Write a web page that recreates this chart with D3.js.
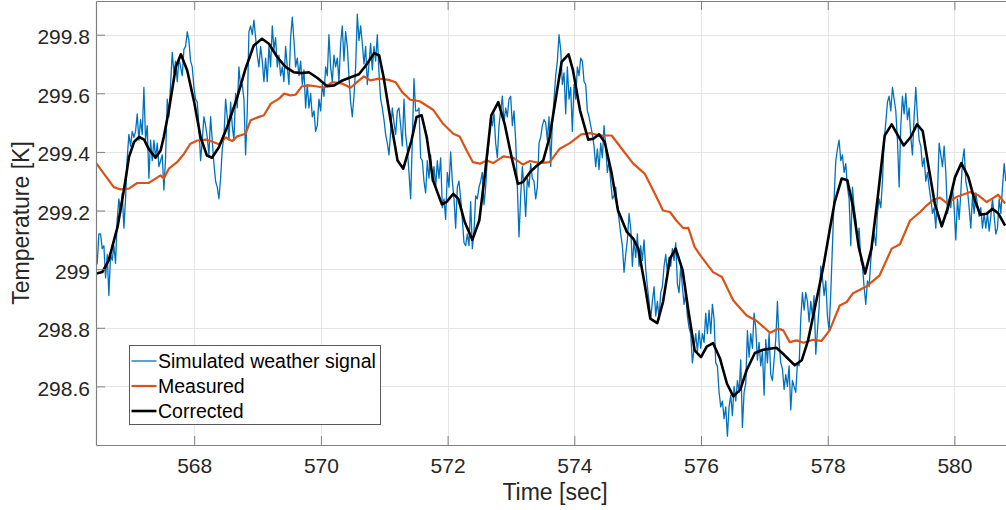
<!DOCTYPE html>
<html>
<head>
<meta charset="utf-8">
<script src="https://cdn.jsdelivr.net/npm/d3@7"></script>
<style>
  body { margin: 0; background: #fff; }
  svg { display: block; font-family: "Liberation Sans", Arial, Helvetica, sans-serif; }
</style>
</head>
<body>
<div id="chart"></div>
<script>
// simulated weather signal, sampled at 38 Hz from t0
const simStart = 566.443, simRate = 38;
const simValues = [
  299.01, 299.02, 299.12, 299.12, 299.07, 299.08, 298.97, 299.05, 298.91, 299.05,
  299.03, 299.08, 299.02, 299.17, 299.24, 299.19, 299.26, 299.14, 299.24, 299.38,
  299.46, 299.42, 299.47, 299.45, 299.47, 299.53, 299.44, 299.51, 299.46, 299.62,
  299.44, 299.49, 299.31, 299.44, 299.37, 299.44, 299.38, 299.43, 299.35, 299.37,
  299.39, 299.27, 299.38, 299.58, 299.52, 299.63, 299.74, 299.67, 299.71, 299.64,
  299.72, 299.69, 299.66, 299.75, 299.76, 299.81, 299.78, 299.71, 299.69, 299.62,
  299.58, 299.57, 299.49, 299.37, 299.44, 299.52, 299.49, 299.45, 299.39, 299.52,
  299.44, 299.36, 299.30, 299.28, 299.24, 299.31, 299.41, 299.45, 299.58, 299.52,
  299.44, 299.57, 299.49, 299.44, 299.60, 299.55, 299.69, 299.62, 299.63, 299.58,
  299.39, 299.54, 299.81, 299.83, 299.80, 299.85, 299.79, 299.73, 299.69, 299.76,
  299.71, 299.64, 299.72, 299.64, 299.76, 299.69, 299.83, 299.75, 299.79, 299.69,
  299.73, 299.66, 299.69, 299.64, 299.76, 299.69, 299.63, 299.79, 299.86, 299.78,
  299.69, 299.72, 299.66, 299.71, 299.63, 299.68, 299.55, 299.63, 299.55, 299.60,
  299.52, 299.54, 299.47, 299.49, 299.58, 299.54, 299.63, 299.59, 299.69, 299.66,
  299.80, 299.69, 299.64, 299.73, 299.69, 299.72, 299.64, 299.77, 299.83, 299.71,
  299.81, 299.76, 299.66, 299.57, 299.52, 299.59, 299.69, 299.87, 299.78, 299.83,
  299.77, 299.70, 299.76, 299.63, 299.70, 299.77, 299.68, 299.76, 299.71, 299.80,
  299.67, 299.58, 299.55, 299.51, 299.46, 299.43, 299.39, 299.47, 299.55, 299.50,
  299.46, 299.54, 299.55, 299.49, 299.42, 299.58,
  299.46, 299.41, 299.33, 299.24, 299.44, 299.65, 299.54, 299.54, 299.55, 299.38,
  299.37, 299.30, 299.26, 299.37, 299.31, 299.39, 299.30, 299.35, 299.28, 299.37,
  299.31, 299.38, 299.21, 299.24, 299.17, 299.33, 299.28, 299.40, 299.30, 299.24,
  299.14, 299.28, 299.30, 299.24, 299.17, 299.09, 299.08, 299.12, 299.08, 299.23,
  299.07, 299.13, 299.25, 299.24, 299.28, 299.30, 299.33, 299.22, 299.28, 299.38,
  299.44, 299.52, 299.49, 299.53, 299.43, 299.38, 299.49, 299.54, 299.59, 299.50,
  299.55, 299.52, 299.58, 299.59, 299.49, 299.54, 299.44, 299.28, 299.11, 299.25,
  299.35, 299.28, 299.18, 299.31, 299.28, 299.36, 299.31, 299.30, 299.24, 299.28,
  299.43, 299.45, 299.49, 299.51, 299.50, 299.44, 299.52, 299.35, 299.50, 299.58,
  299.66, 299.71, 299.80, 299.75, 299.63, 299.67, 299.53, 299.69, 299.58, 299.62,
  299.47, 299.63, 299.58, 299.69, 299.66, 299.72, 299.71, 299.64, 299.63, 299.54,
  299.52, 299.49, 299.46, 299.42, 299.35, 299.41, 299.34, 299.43, 299.38, 299.49,
  299.42, 299.33, 299.37, 299.30, 299.24, 299.25, 299.28, 299.21, 299.17, 299.12,
  299.08, 298.99, 299.05, 299.10, 299.19, 299.14, 299.01, 299.10, 299.04, 299.12,
  299.01, 299.08, 299.03, 299.10, 299.00, 298.94, 298.89, 298.83, 298.89, 298.94,
  298.84, 298.89, 298.83, 298.92, 298.94, 299.01, 299.05, 298.99, 299.04, 299.01,
  299.07, 299.03, 299.09, 298.95, 298.92, 299.01, 298.94, 298.88, 298.92, 298.84,
  298.80, 298.78, 298.68, 298.73, 298.78, 298.72, 298.79, 298.73, 298.78, 298.75,
  298.85, 298.78, 298.86,
  298.78, 298.88, 298.83, 298.68, 298.67, 298.58, 298.53, 298.55, 298.49, 298.53,
  298.43, 298.53, 298.57, 298.50, 298.60, 298.55, 298.62, 298.58, 298.69, 298.46,
  298.58, 298.61, 298.79, 298.70, 298.78, 298.73, 298.85, 298.80, 298.69, 298.75,
  298.67, 298.72, 298.57, 298.76, 298.68, 298.78, 298.64, 298.62, 298.69, 298.76,
  298.89, 298.75, 298.68, 298.66, 298.59, 298.64, 298.60, 298.67, 298.52, 298.62,
  298.60, 298.58, 298.68, 298.67, 298.83, 298.92, 298.86, 298.92, 298.89, 298.82,
  298.89, 298.84, 298.91, 298.71, 298.79, 298.87, 299.01, 298.97, 298.91, 298.96,
  298.84, 298.79, 298.92, 299.08, 299.24, 299.37, 299.41, 299.44, 299.37, 299.39,
  299.33, 299.36, 299.28, 299.24, 299.08, 299.28, 299.21, 299.17, 299.10, 299.14,
  299.03, 299.01, 298.94, 298.88, 298.96, 298.94, 299.03, 299.09, 299.12, 299.08,
  299.19, 299.24, 299.21, 299.30, 299.44, 299.50, 299.57, 299.59, 299.54, 299.62,
  299.58, 299.54, 299.44, 299.28, 299.49, 299.59, 299.53, 299.60, 299.51, 299.55,
  299.45, 299.39, 299.52, 299.62, 299.52, 299.44, 299.42, 299.35, 299.38, 299.30,
  299.33, 299.28, 299.24, 299.19, 299.21, 299.14, 299.26, 299.43, 299.39, 299.35,
  299.42, 299.33, 299.19, 299.24, 299.21, 299.28, 299.21, 299.10, 299.24, 299.17,
  299.26, 299.37, 299.41, 299.30, 299.27, 299.21, 299.14, 299.25, 299.19, 299.26,
  299.22, 299.18, 299.21, 299.14, 299.19, 299.14, 299.19, 299.13, 299.18, 299.24,
  299.18, 299.12, 299.14, 299.24, 299.19, 299.28, 299.36, 299.30
];

const measTime = [
  566.45, 566.73, 566.84, 566.97, 567.10, 567.28, 567.39, 567.47, 567.52, 567.60,
  567.73, 567.84, 567.94, 568.05, 568.18, 568.26, 568.39, 568.50, 568.60, 568.68,
  568.81, 568.89, 568.99, 569.10, 569.21, 569.34, 569.42, 569.52, 569.60, 569.70,
  569.81, 569.92, 570.05, 570.18, 570.34, 570.47, 570.57, 570.68, 570.78, 570.92,
  571.07, 571.18, 571.28, 571.41, 571.56, 571.77, 571.93, 572.09, 572.19, 572.30,
  572.40, 572.51, 572.62, 572.72, 572.88, 573.04, 573.19, 573.30, 573.46, 573.61,
  573.77, 573.93, 574.11, 574.25, 574.40, 574.59, 574.77, 574.93, 575.11, 575.27,
  575.40, 575.51, 575.61, 575.72, 575.80, 575.90, 576.01, 576.19, 576.33, 576.51,
  576.72, 576.88, 577.09, 577.22, 577.30, 577.40, 577.51, 577.62, 577.77, 577.90,
  578.03, 578.19, 578.30, 578.40, 578.61, 578.82, 579.01, 579.14, 579.30, 579.46,
  579.56, 579.67, 579.77, 579.88, 580.03, 580.25, 580.38, 580.51, 580.59, 580.69,
  580.80
];
const measValues = [
  299.363, 299.280, 299.272, 299.275, 299.294, 299.294, 299.309, 299.320, 299.309, 299.343,
  299.365, 299.394, 299.428, 299.439, 299.442, 299.437, 299.426, 299.449, 299.437, 299.453,
  299.462, 299.508, 299.517, 299.525, 299.565, 299.582, 299.599, 299.593, 299.595, 299.624,
  299.627, 299.624, 299.619, 299.638, 299.633, 299.619, 299.638, 299.658, 299.644, 299.650,
  299.646, 299.638, 299.605, 299.578, 299.573, 299.544, 299.496, 299.462, 299.453, 299.405,
  299.365, 299.360, 299.371, 299.362, 299.385, 299.380, 299.357, 299.369, 299.362, 299.365,
  299.411, 299.430, 299.460, 299.464, 299.456, 299.456, 299.405, 299.360, 299.326, 299.258,
  299.200, 299.195, 299.166, 299.140, 299.141, 299.075, 299.041, 298.990, 298.973, 298.893,
  298.842, 298.823, 298.783, 298.797, 298.791, 298.751, 298.757, 298.749, 298.759, 298.755,
  298.791, 298.876, 298.888, 298.918, 298.941, 298.979, 299.070, 299.085, 299.166, 299.195,
  299.217, 299.237, 299.244, 299.225, 299.246, 299.263, 299.252, 299.229, 299.240, 299.254,
  299.224
];

const corrTime = [
  566.46, 566.55, 566.65, 566.79, 566.89, 566.97, 567.05, 567.13, 567.21, 567.28,
  567.39, 567.47, 567.52, 567.60, 567.71, 567.79, 567.89, 568.00, 568.10, 568.20,
  568.28, 568.39, 568.52, 568.68, 568.81, 568.94, 569.07, 569.18, 569.31, 569.44,
  569.57, 569.70, 569.81, 569.94, 570.10, 570.21, 570.34, 570.47, 570.60, 570.71,
  570.84, 570.92, 570.99, 571.10, 571.21, 571.30, 571.43, 571.51, 571.59, 571.67,
  571.77, 571.91, 571.98, 572.09, 572.17, 572.27, 572.39, 572.50, 572.59, 572.69,
  572.80, 572.90, 573.01, 573.11, 573.19, 573.30, 573.40, 573.51, 573.61, 573.72,
  573.80, 573.91, 573.98, 574.09, 574.22, 574.30, 574.39, 574.48, 574.59, 574.69,
  574.83, 574.93, 575.01, 575.11, 575.20, 575.31, 575.40, 575.51, 575.60, 575.71,
  575.80, 575.90, 576.00, 576.09, 576.19, 576.30, 576.41, 576.51, 576.62, 576.72,
  576.85, 576.98, 577.19, 577.32, 577.48, 577.59, 577.69, 577.80, 577.93, 578.03,
  578.11, 578.22, 578.31, 578.40, 578.49, 578.59, 578.69, 578.79, 578.90, 579.01,
  579.11, 579.20, 579.31, 579.41, 579.50, 579.58, 579.69, 579.80, 579.90, 580.01,
  580.11, 580.22, 580.32, 580.41, 580.51, 580.60, 580.69, 580.80
];
const corrValues = [
  298.985, 298.990, 299.030, 299.144, 299.269, 299.382, 299.434, 299.451, 299.442, 299.411,
  299.380, 299.405, 299.451, 299.542, 299.690, 299.733, 299.678, 299.570, 299.451, 299.388,
  299.380, 299.416, 299.485, 299.587, 299.684, 299.763, 299.786, 299.769, 299.724, 299.690,
  299.672, 299.669, 299.672, 299.653, 299.624, 299.627, 299.644, 299.655, 299.665, 299.695,
  299.737, 299.729, 299.655, 299.508, 299.371, 299.343, 299.439, 299.519, 299.525, 299.451,
  299.303, 299.221, 299.229, 299.257, 299.240, 299.161, 299.100, 299.166, 299.326, 299.525,
  299.570, 299.496, 299.382, 299.291, 299.297, 299.331, 299.351, 299.371, 299.451, 299.599,
  299.707, 299.733, 299.678, 299.542, 299.442, 299.445, 299.460, 299.434, 299.326, 299.200,
  299.127, 299.104, 299.070, 298.950, 298.831, 298.816, 298.888, 299.036, 299.070, 298.996,
  298.859, 298.723, 298.700, 298.736, 298.748, 298.695, 298.609, 298.566, 298.589, 298.655,
  298.714, 298.725, 298.732, 298.706, 298.672, 298.689, 298.757, 298.871, 299.007, 299.132,
  299.229, 299.309, 299.303, 299.212, 299.075, 298.985, 299.070, 299.246, 299.456, 299.494,
  299.456, 299.422, 299.451, 299.494, 299.471, 299.365, 299.224, 299.146, 299.212, 299.314,
  299.362, 299.314, 299.235, 299.186, 299.189, 299.206, 299.191, 299.149
];

const xTicks = [568, 570, 572, 574, 576, 578, 580];
const yTicks = [298.6, 298.8, 299, 299.2, 299.4, 299.6, 299.8];
const seriesNames = ["Simulated weather signal", "Measured", "Corrected"];
const seriesColors = ["#0072BD", "#D95319", "#000000"];

let width = 1006, height = 510;
let plot = { left: 96, right: 1007, top: 1, bottom: 445 };

const svg = d3.select("#chart").append("svg")
  .attr("width", width)
  .attr("height", height);

svg.append("rect").attr("width", width).attr("height", height).attr("fill", "#fff");

const x = d3.scaleLinear().domain([566.45, 580.83]).range([plot.left, plot.right]);
const y = d3.scaleLinear().domain([298.4, 299.915]).range([plot.bottom, plot.top]);

// grid
const grid = svg.append("g").attr("stroke", "#e6e6e6").attr("stroke-width", 1);
grid.selectAll(".vg").data(xTicks).enter().append("line")
  .attr("x1", d => Math.round(x(d)) + 0.5).attr("x2", d => Math.round(x(d)) + 0.5)
  .attr("y1", plot.top).attr("y2", plot.bottom);
grid.selectAll(".hg").data(yTicks).enter().append("line")
  .attr("y1", d => Math.round(y(d)) + 0.5).attr("y2", d => Math.round(y(d)) + 0.5)
  .attr("x1", plot.left).attr("x2", plot.right);

svg.append("clipPath").attr("id", "clip")
  .append("rect")
  .attr("x", plot.left).attr("y", plot.top)
  .attr("width", plot.right - plot.left).attr("height", plot.bottom - plot.top);

const simData = simValues.map((v, i) => [simStart + i / simRate, v]);
const measData = measTime.map((t, i) => [t, measValues[i]]);
const corrData = corrTime.map((t, i) => [t, corrValues[i]]);

const line = d3.line().x(d => x(d[0])).y(d => y(d[1]));

const lines = svg.append("g").attr("clip-path", "url(#clip)").attr("fill", "none")
  .attr("stroke-linejoin", "round");
lines.append("path").attr("d", line(simData))
  .attr("stroke", seriesColors[0]).attr("stroke-width", 1.3);
lines.append("path").attr("d", line(measData))
  .attr("stroke", seriesColors[1]).attr("stroke-width", 2.2);
lines.append("path").attr("d", line(corrData))
  .attr("stroke", seriesColors[2]).attr("stroke-width", 2.6);

// axes
const fmt = d => String(Math.round(d * 10) / 10);
const axisColor = "#808080", textColor = "#262626";

const gx = svg.append("g").attr("transform", `translate(0,${plot.bottom})`)
  .call(d3.axisBottom(x).tickValues(xTicks).tickFormat(fmt)
    .tickSizeInner(-9).tickSizeOuter(0).tickPadding(13));
const gxTop = svg.append("g").attr("transform", `translate(0,${plot.top})`)
  .call(d3.axisTop(x).tickValues(xTicks).tickFormat("")
    .tickSizeInner(-9).tickSizeOuter(0));
const gy = svg.append("g").attr("transform", `translate(${plot.left},0)`)
  .call(d3.axisLeft(y).tickValues(yTicks).tickFormat(fmt)
    .tickSizeInner(-9).tickSizeOuter(0).tickPadding(6));

[gx, gxTop, gy].forEach(g => {
  g.select(".domain").attr("stroke", axisColor).attr("stroke-width", 1.2);
  g.selectAll(".tick line").attr("stroke", axisColor);
  g.selectAll(".tick text").attr("fill", textColor)
    .attr("font-size", 21).attr("font-family", "Liberation Sans, Arial, sans-serif");
});
gy.selectAll(".tick text").attr("dy", "0.43em");

svg.append("text")
  .attr("x", 555).attr("y", 500)
  .attr("text-anchor", "middle")
  .attr("font-size", 23).attr("fill", textColor)
  .text("Time [sec]");

svg.append("text")
  .attr("transform", "translate(29,223) rotate(-90)")
  .attr("text-anchor", "middle")
  .attr("font-size", 23).attr("fill", textColor)
  .text("Temperature [K]");

// legend
const legend = svg.append("g").attr("transform", "translate(129.5,345.5)");
legend.append("rect")
  .attr("width", 251).attr("height", 79)
  .attr("fill", "#fff").attr("stroke", "#5a5a5a").attr("stroke-width", 1);
const item = legend.selectAll(".item").data(seriesNames).enter().append("g")
  .attr("transform", (d, i) => `translate(0,${15.5 + i * 25})`);
item.append("line")
  .attr("x1", 2).attr("x2", 27)
  .attr("stroke", (d, i) => seriesColors[i])
  .attr("stroke-width", (d, i) => [1.3, 2.2, 2.6][i]);
item.append("text")
  .attr("x", 28.5).attr("dy", "0.36em")
  .attr("font-size", 19.5).attr("fill", "#000")
  .text(d => d);
</script>
</body>
</html>
